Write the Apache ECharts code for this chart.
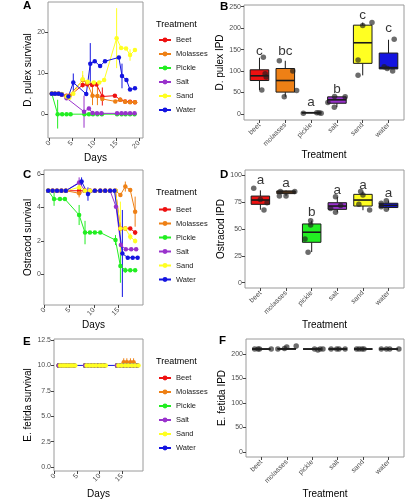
<!DOCTYPE html>
<html><head><meta charset="utf-8">
<script src="https://cdn.jsdelivr.net/npm/echarts@6/dist/echarts.min.js"></script>
<style>html,body{margin:0;padding:0;background:#fff}#c{width:407px;height:500px}</style>
</head><body><div id="c"></div>
<script>
// ---------- DATA ----------
const treatments = ['Beet','Molasses','Pickle','Salt','Sand','Water'];
const categories = ['beet','molasses','pickle','salt','sand','water'];

// Panel A: D. pulex survival (days, mean, error half-width)
const aDays_Beet = [0.5,1.2,2.0,2.7,3.8,4.4,7.4,8.4,9.5,10.5,11.8,14.6,15.8,16.9,18.0,19.1];
const aMean_Beet = [5,5,5,4.8,4.5,4.4,7.1,7.3,7.1,7.2,4.3,4.5,3.5,3.1,3.0,2.9];
const aErr_Beet  = [0,0,0,0,0,0,0.6,0.5,0,0,2.2,0,0,0,0,0];
const aDays_Molasses = [0.5,1.2,2.0,2.7,3.8,4.4,7.4,8.4,9.6,10.7,11.8,14.7,15.8,16.9,18.0,19.1];
const aMean_Molasses = [5,5,5,4.8,4.3,4.5,8.3,7.6,4.5,4.4,3.7,3.1,3.5,3.0,2.9,2.9];
const aErr_Molasses  = [0,0,0,0,0,0,1.2,0,2.3,2.2,0,0,0.4,0,0,0];
const aDays_Pickle = [0.5,1.8,2.8,3.8,4.7,7.8,8.8,9.7,10.7,11.7,15.1,16.1,17.0,18.0,19.0];
const aMean_Pickle = [5,0,0,0,0,0,0,0,0,0,0,0,0,0,0];
const aErr_Pickle  = [0,3.5,0,0,0,0,0,0,0,0,0,0,0,0,0];
const aDays_Salt = [0.5,1.2,2.0,2.7,3.8,7.7,8.8,9.6,10.6,11.6,15.1,16.1,17.0,18.0,19.0];
const aMean_Salt = [5,5,5,4.8,3.9,0.6,1.4,0.3,0.2,0.2,0.2,0.2,0.2,0.2,0.2];
const aErr_Salt  = [0,0,0,0,0,3.9,0.4,0,0,0,0,0,0,0,0];
const aDays_Sand = [0.5,1.2,2.0,2.7,3.8,4.4,5.3,7.4,8.5,9.9,11.1,12.2,15.0,16.0,17.1,18.0,19.1];
const aMean_Sand = [5,5,5,4.9,4.3,4.0,5.0,8.5,7.9,7.7,7.7,8.3,18.5,16.1,16.0,14.4,15.6];
const aErr_Sand  = [0,0,0,0,0,0,0,2.0,0,0,0,0,7.3,0,0,1.4,0];
const aDays_Water = [0.5,1.2,2.0,2.7,4.2,5.3,8.2,9.1,10.1,11.3,12.4,15.5,16.2,17.2,18.0,19.1];
const aMean_Water = [5,5,5,4.8,4.3,7.7,4.9,12.3,12.9,11.7,12.9,13.8,9.3,8.3,6.0,6.3];
const aErr_Water  = [0,0,0,0,0,2.2,0,5.0,0,0,0,0,3.0,0,0,0];

// Panel C: Ostracod survival
const cDays_Common = [0.7,1.6,2.5,3.4,4.3,7.0,8.2,9.2,10.2,11.3,12.3,13.3,14.4,15.4,16.4,17.4,18.4];
const cMean_Beet = [5,5,5,5,5,5,5,5,5,5,5,5,5,2.75,2.75,2.75,2.5];
const cErr_Beet  = [0,0,0,0,0,0,0,0,0,0,0,0,0,0,0,0,0.15];
const cMean_Molasses = [5,5,5,5,5,4.85,5,5,5,5,5,5,5,4.75,5.25,5.05,3.75];
const cErr_Molasses  = [0,0,0,0,0,0.25,0,0,0,0,0,0,0,0,0.3,0,0.9];
const cDays_Pickle = [0.7,1.9,3.1,4.1,7.0,8.2,9.2,10.2,11.3,14.4,15.4,16.4,17.4,18.4];
const cMean_Pickle = [5,4.5,4.5,4.5,3.55,2.5,2.5,2.5,2.5,2.05,0.5,0.25,0.25,0.25];
const cErr_Pickle  = [0,0.4,0,0,0.6,0.7,0,0,0,0.3,1.0,0.15,0,0];
const cDays_Salt = [0.7,1.6,2.5,3.4,4.3,7.0,8.2,9.2,10.2,11.3,12.3,13.3,14.5,15.5,16.5,17.6,18.6];
const cMean_Salt = [5,5,5,5,5,5.5,5,5,5,5,5,5,4.05,1.75,1.5,1.5,1.5];
const cErr_Salt  = [0,0,0,0,0,0.3,0,0,0,0,0,0,0,0,0,0,0];
const cMean_Sand = [5,5,5,5,5,5.2,5,5,5,5,5,5,5,2.75,2.75,2.25,2.0];
const cErr_Sand  = [0,0,0,0,0,0.3,0,0,0,0,0,0,0,1.6,0,0.2,0.15];
const cDays_Water = [0.7,1.6,2.5,3.4,4.3,7.5,8.8,10.2,11.3,12.3,13.3,14.2,15.8,16.9,17.9,18.9];
const cMean_Water = [5,5,5,5,5,5.55,4.8,5,5,5,5,5,1.25,1.0,1.0,1.0];
const cErr_Water  = [0,0,0,0,0,0.25,0.4,0,0,0,0,0,2.6,0,0,0];

// Panel E: E. fetida survival (null = gap between sampling blocks)
const eDays_Common = [0.9,1.5,2.0,2.6,3.2,3.7,4.3,5.5,6.8,7.5,8.2,8.9,9.7,10.4,11.1,12.5,13.9,14.6,15.4,16.1,16.9,17.6,18.4];
const eMean_Beet = [10,10,10,10,10,10,10,null,10,10,10,10,10,10,10,null,10,10,10,10,10,10,10];
const eMean_Molasses = [10,10,10,10,10,10,10,null,10,10,10,10,10,10,10,null,10,10,10.3,10.3,10.3,10.3,10];
const eErr_Molasses  = [0,0,0,0,0,0,0,0,0,0,0,0,0,0,0,0,0,0,0.4,0.4,0.4,0.4,0];
const eMean_Pickle = [10,10,10,10,10,10,10,null,10,10,10,10,10,10,10,null,10,10,10,10,10,10,10];
const eMean_Salt = [10,10,10,10,10,10,10,null,10,10,10,10,10,10,10,null,10,10,10,10,10,10,10];
const eDays_Sand = [1.2,1.8,2.3,2.9,3.5,4.0,4.6,5.5,7.1,7.8,8.5,9.2,10.0,10.7,11.4,12.5,14.2,14.9,15.7,16.4,17.2,17.9,18.7];
const eMean_Sand = [10,10,10,10,10,10,10,null,10,10,10,10,10,10,10,null,10,10,10,10,10,10,10];
const eDays_Water = [0.9,1.5,2.0,2.6,3.2,3.7,4.3,6.8,7.5,8.2,8.9,9.7,10.4,11.1,13.9,14.6,15.4,16.1,16.9,17.6,18.4];
const eMean_Water = [10,10,10,10,10,10,10,10,10,10,10,10,10,10,10,10,10,10,10,10,10];

// Panel B: D. pulex IPD  box stats [lower whisker, Q1, median, Q3, upper whisker]
const bBoxes = [[56,78,89,103,131],[40,51,78,106,124],[2,2.5,3,3,3],[16,25,33,40,41],[90,118,166,207,213],[104,105,108,142,173]];
const bPointX = [0.15,0.22,0.26,0.09, 0.77,1.29,1.44,0.96, 1.70,2.22,2.31,2.39, 2.91,3.32,2.65,2.90, 4.00,4.36,3.82,3.82, 5.22,4.83,5.16,4.95];
const bPointY = [132,94,86,56, 124,100,55,40, 2,3,3,2, 41,40,27,16, 206,213,126,90, 174,110,100,106];
const bLetters = ['c','bc','a','b','c','c'];
const bLetterY = [147,147,27,57,231,200];

// Panel D: Ostracod IPD
const dBoxes = [[68,73,77,80.7,86],[81,83,84.5,85.5,86],[28.5,37.6,47,54.7,57.8],[65.5,68.3,71.4,74.5,80],[67.5,71.4,77,82.3,85],[68,70,72,74,76.5]];
const dPointX = [-0.26,0,0.26,0.14, 0.74,1,0.78,1.34, 1.96,1.96,1.74,1.86, 2.93,2.74,2.93,3.13, 3.91,4.0,3.84,4.26, 4.71,4.91,4.91,4.71];
const dPointY = [88,77.6,74.5,67.7, 80.7,80.7,85,85, 57.8,53.7,40.7,28.3, 80,69,65.5,72, 85,81.7,73,67.7, 74,76.4,68.3,70.8];
const dLetters = ['a','a','b','a','a','a'];
const dLetterY = [95.5,93,65.5,85.7,91,83];

// Panel F: E. fetida IPD
const fBoxes = [[209,210,210,210,211],[209,210,210,211,212],[209,210,210,210,211],[209,210,210,210,211],[209,210,210,210,211],[209,210,210,210,211]];
const fPointX = [-0.26,-0.13,-0.07,0.39, 0.65,0.91,1.0,1.37, 2.09,2.22,2.31,2.42, 2.74,2.96,3.29,3.05, 3.74,3.84,3.95,4.03, 4.71,4.91,5.04,5.4];
const fPointY = [210,210,210,210, 210,211,214,216, 210,208,210,210, 210,210,210,210, 210,210,210,210, 210,210,210,210];

// Axis ticks
const aXTicks = [0,5,10,15,20], aYTicks = [0,10,20];
const cXTicks = [0,5,10,15],    cYTicks = [0,2,4,6];
const eXTicks = [0,5,10,15],    eYTicks = [0,2.5,5,7.5,10,12.5];
const bYTicks = [0,50,100,150,200,250];
const dYTicks = [0,25,50,75,100];
const fYTicks = [0,50,100,150,200];
const catTicks = [0,1,2,3,4,5];

// ---------- STYLE ----------
const FONT = '"Liberation Sans", Arial, sans-serif';
const colorOf = {Beet:'#EE1111', Molasses:'#EE8015', Pickle:'#22EE22', Salt:'#9932CC', Sand:'#FFFF22', Water:'#1414E0'};
const boxFill = treatments.map(t => colorOf[t]);

const grids = [
  {left:48,  top:2,   width:95,  height:136},
  {left:244, top:5,   width:160, height:115},
  {left:44,  top:170, width:99,  height:135},
  {left:245, top:170, width:159, height:118},
  {left:54,  top:339, width:89,  height:132},
  {left:246, top:339, width:158, height:118}
].map(g => Object.assign({show:true, borderColor:'#9a9a9a', borderWidth:1, backgroundColor:'transparent'}, g));

function xAxisDef(gi, min, max, ticks, name, gap, fmt){
  return {type:'value', gridIndex:gi, min, max, name, nameLocation:'middle', nameGap:gap, position:'bottom',
    nameTextStyle:{fontSize:10, color:'#000', fontFamily:FONT},
    axisLine:{show:false, onZero:false}, splitLine:{show:false},
    axisTick:{show:true, length:3, lineStyle:{color:'#444'}, customValues:ticks},
    axisLabel:{customValues:ticks, rotate:45, fontSize:7, color:'#4d4d4d', margin:4, fontFamily:FONT, formatter:fmt}};
}
function yAxisDef(gi, min, max, ticks, name, gap, fmt){
  return {type:'value', gridIndex:gi, min, max, name, nameLocation:'middle', nameGap:gap, nameRotate:90, position:'left',
    nameTextStyle:{fontSize:10, color:'#000', fontFamily:FONT, verticalAlign:'bottom'},
    axisLine:{show:false, onZero:false}, splitLine:{show:false},
    axisTick:{show:true, length:3, lineStyle:{color:'#444'}, customValues:ticks},
    axisLabel:{customValues:ticks, fontSize:7, color:'#4d4d4d', margin:3, fontFamily:FONT, formatter:fmt}};
}
const catFmt = v => categories[Math.round(v)];
const xAxes = [
  xAxisDef(0, -0.36, 20.9, aXTicks, 'Days', 9),
  xAxisDef(1, -0.6, 5.6, catTicks, 'Treatment', 29, catFmt),
  xAxisDef(2, -0.15, 20.0, cXTicks, 'Days', 13),
  xAxisDef(3, -0.6, 5.6, catTicks, 'Treatment', 32, catFmt),
  xAxisDef(4, -0.15, 19.7, eXTicks, 'Days', 18),
  xAxisDef(5, -0.6, 5.6, catTicks, 'Treatment', 32, catFmt)
];
const yAxes = [
  yAxisDef(0, -5.8, 27.3, aYTicks, 'D. pulex survival', 11),
  yAxisDef(1, -14, 254, bYTicks, 'D. pulex IPD', 7),
  yAxisDef(2, -1.83, 6.24, cYTicks, 'Ostracod survival', 10),
  yAxisDef(3, -5, 105, dYTicks, 'Ostracod IPD', 11),
  yAxisDef(4, -0.39, 12.6, eYTicks, 'E. fetida survival', 19, v => v.toFixed(1)),
  yAxisDef(5, -10.5, 230.5, fYTicks, 'E. fetida IPD', 15)
];

const series = [];
function addLine(gi, name, days, mean, err){
  const col = colorOf[name];
  series.push({type:'line', name, xAxisIndex:gi, yAxisIndex:gi, animation:false,
    data: days.map((d,i) => [d, mean[i] == null ? '-' : mean[i]]),
    symbol:'circle', symbolSize:4.5, showSymbol:true, connectNulls:false,
    lineStyle:{width:1, color:col}, itemStyle:{color:col, borderWidth:0}});
  if (err) {
    const ed = [];
    days.forEach((d,i) => { if (err[i] > 0 && mean[i] != null) ed.push([d, mean[i]-err[i], mean[i]+err[i]]); });
    series.push({type:'custom', name: name + ' err', xAxisIndex:gi, yAxisIndex:gi, animation:false,
      encode:{x:0, y:[1,2]}, data: ed,
      renderItem: (p, api) => {
        const p1 = api.coord([api.value(0), api.value(1)]), p2 = api.coord([api.value(0), api.value(2)]);
        return {type:'line', shape:{x1:p1[0], y1:p1[1], x2:p2[0], y2:p2[1]}, style:{stroke:col, lineWidth:1}};
      }});
  }
}
// Panel A
addLine(0,'Beet',aDays_Beet,aMean_Beet,aErr_Beet);
addLine(0,'Molasses',aDays_Molasses,aMean_Molasses,aErr_Molasses);
addLine(0,'Pickle',aDays_Pickle,aMean_Pickle,aErr_Pickle);
addLine(0,'Salt',aDays_Salt,aMean_Salt,aErr_Salt);
addLine(0,'Sand',aDays_Sand,aMean_Sand,aErr_Sand);
addLine(0,'Water',aDays_Water,aMean_Water,aErr_Water);
// Panel C
addLine(2,'Beet',cDays_Common,cMean_Beet,cErr_Beet);
addLine(2,'Molasses',cDays_Common,cMean_Molasses,cErr_Molasses);
addLine(2,'Pickle',cDays_Pickle,cMean_Pickle,cErr_Pickle);
addLine(2,'Salt',cDays_Salt,cMean_Salt,cErr_Salt);
addLine(2,'Sand',cDays_Common,cMean_Sand,cErr_Sand);
addLine(2,'Water',cDays_Water,cMean_Water,cErr_Water);
// Panel E
addLine(4,'Water',eDays_Water,eMean_Water,null);
addLine(4,'Beet',eDays_Common,eMean_Beet,null);
addLine(4,'Molasses',eDays_Common,eMean_Molasses,eErr_Molasses);
addLine(4,'Pickle',eDays_Common,eMean_Pickle,null);
addLine(4,'Salt',eDays_Common,eMean_Salt,null);
addLine(4,'Sand',eDays_Sand,eMean_Sand,null);

function addBoxPanel(gi, boxes, px, py, letters, letterY){
  series.push({type:'custom', name:'box'+gi, xAxisIndex:gi, yAxisIndex:gi, animation:false,
    encode:{x:0, y:[1,2,3,4,5]},
    data: boxes.map((b,i) => [i].concat(b)),
    renderItem: (p, api) => {
      const x = api.value(0);
      const w = api.size([0.72, 0])[0];
      const c = k => api.coord([x, api.value(k)]);
      const lo = c(1), q1 = c(2), md = c(3), q3 = c(4), hi = c(5);
      const st = '#1a1a1a';
      return {type:'group', children:[
        {type:'line', shape:{x1:lo[0], y1:lo[1], x2:q1[0], y2:q1[1]}, style:{stroke:st, lineWidth:1}},
        {type:'line', shape:{x1:q3[0], y1:q3[1], x2:hi[0], y2:hi[1]}, style:{stroke:st, lineWidth:1}},
        {type:'rect', shape:{x:q1[0]-w/2, y:q3[1], width:w, height:Math.max(q1[1]-q3[1], 0)}, style:{fill:boxFill[p.dataIndex], stroke:st, lineWidth:1}},
        {type:'line', shape:{x1:md[0]-w/2, y1:md[1], x2:md[0]+w/2, y2:md[1]}, style:{stroke:st, lineWidth:1.6}}
      ]};
    }});
  series.push({type:'scatter', name:'pts'+gi, xAxisIndex:gi, yAxisIndex:gi, animation:false,
    data: px.map((x,i) => [x, py[i]]), symbolSize:5.5,
    itemStyle:{color:'rgba(30,30,30,0.82)'}});
  if (letters) {
    series.push({type:'scatter', name:'let'+gi, xAxisIndex:gi, yAxisIndex:gi, animation:false,
      data: letters.map((l,i) => [i, letterY[i], l]), symbolSize:0,
      label:{show:true, position:'inside', formatter: p => p.data[2], fontSize:13.5, color:'#000', fontFamily:FONT}});
  }
}
addBoxPanel(1, bBoxes, bPointX, bPointY, bLetters, bLetterY);
addBoxPanel(3, dBoxes, dPointX, dPointY, dLetters, dLetterY);
addBoxPanel(5, fBoxes, fPointX, fPointY, null, null);

function legendDef(top){
  return {data: treatments, orient:'vertical', left:158, top, padding:0, itemWidth:12, itemHeight:6, itemGap:4,
    selectedMode:false, textStyle:{fontSize:7.5, lineHeight:10, color:'#1a1a1a', fontFamily:FONT}};
}
function txt(x, y, s, size, bold){
  return {type:'text', x, y, style:{text:s, fontSize:size, fontWeight: bold ? 'bold' : 'normal', fill:'#000', fontFamily:FONT, textVerticalAlign:'middle', verticalAlign:'middle'}};
}

const chart = echarts.init(document.getElementById('c'), null, {width:407, height:500});
chart.setOption({
  animation:false,
  textStyle:{fontFamily:FONT},
  grid: grids,
  xAxis: xAxes,
  yAxis: yAxes,
  legend: [legendDef(35), legendDef(204.5), legendDef(373)],
  graphic: [
    txt(156, 25, 'Treatment', 9), txt(156, 193, 'Treatment', 9), txt(156, 361.7, 'Treatment', 9),
    txt(23, 6, 'A', 11.5, true), txt(220, 6.5, 'B', 11.5, true),
    txt(23, 174.5, 'C', 11.5, true), txt(220, 175, 'D', 11.5, true),
    txt(23, 341.5, 'E', 11.5, true), txt(219, 341, 'F', 11.5, true)
  ],
  series
});
</script></body></html>
